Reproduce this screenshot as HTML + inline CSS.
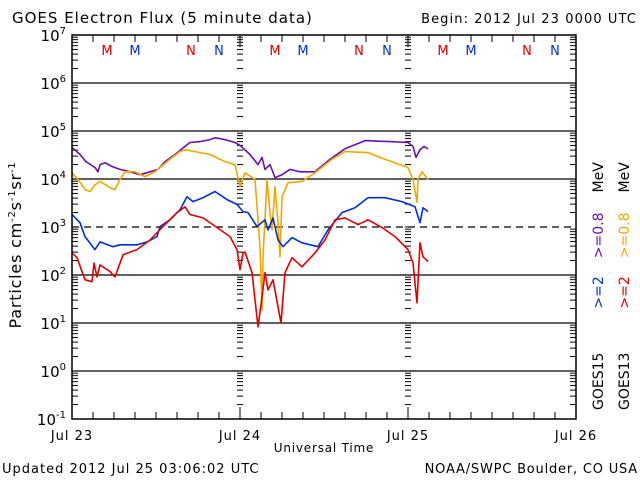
<!DOCTYPE html>
<html><head><meta charset="utf-8"><style>
html,body{margin:0;padding:0;background:#fff;}
svg{display:block;font-family:"DejaVu Sans","Liberation Sans",sans-serif;}
</style></head><body>
<svg id="chart" width="640" height="480" viewBox="0 0 640 480">
<text x="12" y="23" font-size="15" letter-spacing="1">GOES Electron Flux (5 minute data)</text>
<text x="637" y="23" font-size="13" letter-spacing="1.1" text-anchor="end">Begin: 2012 Jul 23 0000 UTC</text>
<g id="grid"></g>
<g id="ticks"></g>
<g id="series"></g>
<rect x="72" y="35" width="504" height="384" fill="none" stroke="#000" stroke-width="1.5"/>
<g id="ylabels"></g>
<g id="xlabels"></g>
<g id="mn"></g>
<text x="324" y="452" font-size="12" letter-spacing="0.8" text-anchor="middle">Universal Time</text>
<text transform="translate(21,245) rotate(-90)" font-size="16" letter-spacing="0.8" text-anchor="middle">Particles cm<tspan font-size="10" dy="-6">-2</tspan><tspan dy="6">s</tspan><tspan font-size="10" dy="-6">-1</tspan><tspan dy="6">sr</tspan><tspan font-size="10" dy="-6">-1</tspan></text>
<text transform="translate(603,410) rotate(-90)" font-size="14"><tspan fill="#000">GOES15</tspan><tspan fill="#0030d0" dx="44">&gt;=2</tspan><tspan fill="#6a10b0" dx="18">&gt;=0.8</tspan><tspan fill="#000" dx="20">MeV</tspan></text>
<text transform="translate(629,410) rotate(-90)" font-size="14"><tspan fill="#000">GOES13</tspan><tspan fill="#e00000" dx="44">&gt;=2</tspan><tspan fill="#f0a800" dx="18">&gt;=0.8</tspan><tspan fill="#000" dx="20">MeV</tspan></text>
<text x="2" y="473" font-size="13" letter-spacing="1">Updated 2012 Jul 25 03:06:02 UTC</text>
<text x="638" y="473" font-size="13" letter-spacing="0.8" text-anchor="end">NOAA/SWPC Boulder, CO USA</text>
</svg>
<script>
const dayLabels=["Jul 23","Jul 24","Jul 25","Jul 26"];
const decadeExps=[-1,0,1,2,3,4,5,6,7];
const g15hiHours=[0,1.14,2,3.29,3.71,4,4.71,5.71,6.86,8.29,9.71,11.14,12.29,13.29,14.71,16.14,16.86,18.29,19.71,20.43,21.86,23.29,24,25.43,26.57,27.14,27.57,28.29,29,30,31.14,32.57,34.71,36.86,39,41.86,45.43,48,48.71,49.14,49.71,50.29,50.86];
const g15hiLog=[4.66,4.51,4.36,4.24,4.15,4.30,4.34,4.26,4.20,4.15,4.09,4.15,4.20,4.36,4.51,4.68,4.76,4.78,4.82,4.86,4.82,4.76,4.70,4.51,4.30,4.45,4.20,4.30,4.03,4.09,4.20,4.15,4.15,4.41,4.63,4.80,4.78,4.76,4.68,4.45,4.61,4.68,4.63];
const g13hiHours=[0,0.86,1.86,2.57,3.29,4,5.43,6.14,6.86,7.57,9,10.43,11.86,14,15.43,16.14,17.57,19.71,21.86,23.29,24,24.71,26.14,26.86,27.14,27.29,27.86,28.29,28.57,29,29.43,29.71,30,30.86,32.86,34.71,37.14,39,42.29,44.71,48,48.71,49.29,49.43,50,50.86];
const g13hiLog=[4.13,3.99,3.78,3.74,3.88,3.95,3.82,3.78,3.99,4.15,4.15,4.05,4.15,4.41,4.57,4.61,4.57,4.51,4.36,4.30,3.84,4.13,3.99,2.59,1.27,2.38,3.99,3.30,2.94,3.84,3.09,2.38,3.63,3.92,3.95,4.13,4.41,4.57,4.55,4.41,4.24,3.99,3.51,3.99,4.15,3.99];
const g15loHours=[0,1.14,1.86,3.29,4,5.86,6.86,9.29,10.71,12.14,12.57,14,15.43,16.43,17.29,18.71,20.43,22.14,23.57,24.43,25.14,26.43,27.57,28,28.71,29.43,30.14,31.43,32.86,35.14,36.57,38.57,40.43,42.29,44.71,47.14,49,49.71,50.14,50.86];
const g15loLog=[3.26,3.09,2.80,2.53,2.69,2.59,2.63,2.63,2.69,2.80,3.01,3.15,3.36,3.63,3.53,3.61,3.74,3.57,3.47,3.32,3.30,3.01,3.15,2.94,3.19,2.73,2.59,2.78,2.67,2.59,2.94,3.30,3.40,3.61,3.61,3.53,3.42,3.09,3.40,3.32];
const g13loHours=[0,0.71,1.86,2.86,3.14,3.57,4,5.43,6.14,7.29,9.29,11.14,13,15,16.14,16.86,18.71,20.71,22.57,23.57,24,24.43,24.71,25.71,26.57,27.14,27.57,28,28.71,29.43,29.86,30.43,31.43,32.86,34.71,36.14,37.57,39,40.86,42.29,44.29,46.14,48,48.71,49.29,49.71,50.14,50.86];
const g13loLog=[2.46,2.36,1.90,1.86,2.25,1.96,2.21,2.07,1.96,2.42,2.53,2.73,3.01,3.30,3.42,3.26,3.19,2.99,2.80,2.53,2.11,2.46,2.48,2.05,0.92,1.54,2.05,1.69,1.90,1.34,1.00,2.05,2.36,2.17,2.46,2.73,3.15,3.19,3.05,3.15,2.99,2.80,2.53,2.25,1.42,2.67,2.38,2.28];

const NS="http://www.w3.org/2000/svg";
const X0=72,X1=576,Y0=419,Y1=35;
function xScale(h){return X0+(X1-X0)*h/72;}
function yScale(l){return Y0-(Y0-Y1)*(l+1)/8;}
function mk(tag,attrs,parent){const e=document.createElementNS(NS,tag);for(const k in attrs)e.setAttribute(k,attrs[k]);parent.appendChild(e);return e;}
const grid=document.getElementById('grid'),ticks=document.getElementById('ticks'),ser=document.getElementById('series');
const yl=document.getElementById('ylabels'),xl=document.getElementById('xlabels'),mn=document.getElementById('mn');

decadeExps.forEach(e=>{
  const y=yScale(e);
  if(e>-1&&e<7){
    const ln=mk('line',{x1:X0,x2:X1,y1:y,y2:y,stroke:'#000','stroke-width':1.3},grid);
    if(e===3) ln.setAttribute('stroke-dasharray','7,5');
    
    
  }
  const t=mk('text',{x:66,y:y+6,'font-size':15,'text-anchor':'end'},yl);
  
  
  t.textContent='10';
  const s=mk('tspan',{'font-size':10,dy:-7},t);s.textContent=String(e);
  if(e<7){
    for(let m=2;m<=9;m++){
      const yy=yScale(e+Math.log10(m));
      [[X0,6],[X1,-6],[xScale(24)-3,6],[xScale(48)-3,6]].forEach(([xx,len])=>{
        const tk=mk('line',{x1:xx,x2:xx+len,y1:yy,y2:yy,stroke:'#000','stroke-width':1},ticks);
        
        
      });
    }
    [xScale(24)-3,xScale(48)-3].forEach(xx=>{
      const tk=mk('line',{x1:xx,x2:xx+6,y1:y,y2:y,stroke:'#000','stroke-width':1},ticks);
      
      
    });
  }
});
for(let h=0;h<=72;h+=3){
  const x=xScale(h),len=(h%24===0)?12:7;
  const b=mk('line',{x1:x,x2:x,y1:Y0,y2:Y0-len,stroke:'#000','stroke-width':1},ticks);
  
  
  const t=mk('line',{x1:x,x2:x,y1:Y1,y2:Y1+len,stroke:'#000','stroke-width':1},ticks);
  
  
}
dayLabels.forEach((d,i)=>{
  const t=mk('text',{x:xScale(i*24),y:440,'font-size':13,'letter-spacing':1,'text-anchor':'middle'},xl);
  
  
  t.textContent=d;
});
const marks=[["M",5,"#e00000"],["M",9,"#0030d0"],["N",17,"#e00000"],["N",21,"#0030d0"]];
for(let d=0;d<3;d++)marks.forEach(([c,h,col])=>{
  const t=mk('text',{x:xScale(d*24+h),y:55,'font-size':13,'text-anchor':'middle',fill:col},mn);
  
  
  t.textContent=c;
});
function line(hours,logs,color,name){
  const d=hours.map((h,i)=>(i?'L':'M')+xScale(h).toFixed(1)+','+yScale(logs[i]).toFixed(1)).join('');
  const p=mk('path',{d:d,fill:'none',stroke:color,'stroke-width':1.6,'stroke-linejoin':'round'},ser);
  
  
}
line(g15hiHours,g15hiLog,'#6a10b0','goes15-0p8mev-line');
line(g13hiHours,g13hiLog,'#f0a800','goes13-0p8mev-line');
line(g15loHours,g15loLog,'#0030d0','goes15-2mev-line');
line(g13loHours,g13loLog,'#e00000','goes13-2mev-line');
</script>
</body></html>
